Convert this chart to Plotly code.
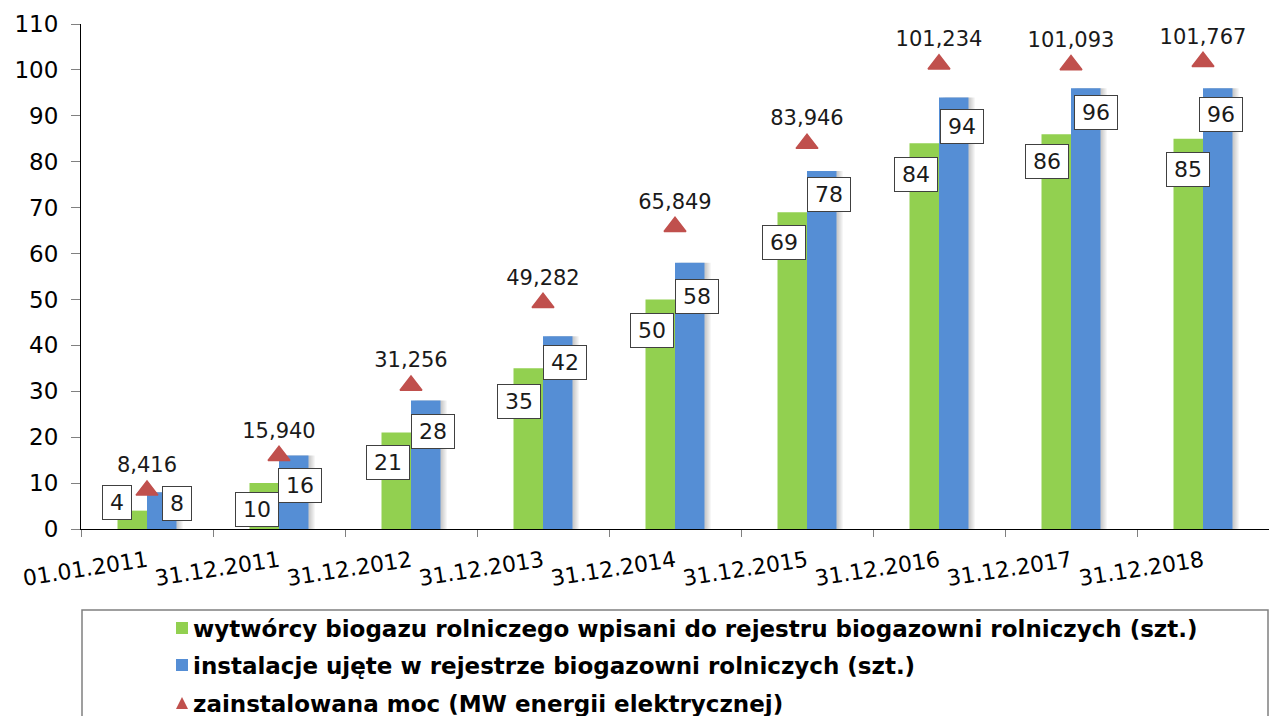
import plotly.graph_objects as go

# Report dates (category axis)
dates = ["01.01.2011", "31.12.2011", "31.12.2012", "31.12.2013", "31.12.2014",
         "31.12.2015", "31.12.2016", "31.12.2017", "31.12.2018"]

# Agricultural biogas producers entered in the register (pcs.)
producers = [4, 10, 21, 35, 50, 69, 84, 86, 85]

# Installations listed in the register of agricultural biogas plants (pcs.)
installations = [8, 16, 28, 42, 58, 78, 94, 96, 96]

# Installed electrical capacity (MW)
capacity_mw = [8.416, 15.940, 31.256, 49.282, 65.849, 83.946, 101.234, 101.093, 101.767]

names = [
    "wytwórcy biogazu rolniczego wpisani do rejestru biogazowni rolniczych (szt.)",
    "instalacje ujęte w rejestrze biogazowni rolniczych (szt.)",
    "zainstalowana moc (MW energii elektrycznej)",
]

GREEN = "#92D050"
BLUE = "#558ED5"
RED = "#C0504D"
FONT = "DejaVu Sans"

W, H = 1269, 716
M_L, M_R, M_T, M_B = 81, 0, 24, 187
PLOT_W = W - M_L - M_R
PLOT_H = H - M_T - M_B
N_CAT = len(dates)
UNIT_PX = PLOT_W / N_CAT          # pixels per category
BAR_W = 29.5 / UNIT_PX            # bar width in category units


def px(x):
    """Horizontal pixel position -> paper coordinate."""
    return (x - M_L) / PLOT_W


def py(y):
    """Vertical pixel position (from top) -> paper coordinate."""
    return (H - M_B - y) / PLOT_H


# pixel offsets of the boxed value labels relative to the bar tops
green_shift = [(-30, 8), (-22, -26), (-23, -30), (-24, -33), (-23, -31),
               (-23, -30), (-23, -31), (-24, -27), (-15, -31)]
blue_shift = [(30, -11), (21, -30), (22, -31), (22, -26), (22, -34),
              (22, -24), (23, -29), (25, -24), (18, -26)]

fig = go.Figure()

# soft drop shadow on the right side of the installation bars
for k in (2, 4, 6):
    fig.add_trace(go.Bar(x=dates, y=installations, offset=k / UNIT_PX, width=BAR_W,
                         marker=dict(color="rgba(0,0,0,0.07)", line=dict(width=0)),
                         showlegend=False, hoverinfo="skip"))

fig.add_trace(go.Bar(x=dates, y=producers, name=names[0], offset=-BAR_W, width=BAR_W,
                     marker=dict(color=GREEN, line=dict(width=0))))
fig.add_trace(go.Bar(x=dates, y=installations, name=names[1], offset=0, width=BAR_W,
                     marker=dict(color=BLUE, line=dict(width=0))))
fig.add_trace(go.Scatter(x=dates, y=capacity_mw, name=names[2], mode="markers+text",
                         marker=dict(symbol="triangle-up", size=19, color=RED,
                                     line=dict(color=RED, width=1.5)),
                         text=[f"{v:.3f}".replace(".", ",") for v in capacity_mw],
                         textposition="top center",
                         textfont=dict(family=FONT, size=21, color="#1a1a1a")))

annotations = []
label_font = dict(family=FONT, size=22, color="#1a1a1a")


def value_box(d, v, dx, dy):
    txt = str(v)
    return dict(x=d, y=v, xref="x", yref="y", text=txt, showarrow=False,
                xshift=dx, yshift=dy, width=14 * len(txt) + 6, align="center",
                bgcolor="white", bordercolor="#404040", borderwidth=1, borderpad=4,
                font=label_font)


for d, v, (dx, dy) in zip(dates, producers, green_shift):
    annotations.append(value_box(d, v, dx, dy))
for d, v, (dx, dy) in zip(dates, installations, blue_shift):
    annotations.append(value_box(d, v, dx, dy))

# legend box drawn below the plot area (runs off the bottom edge)
shapes = [dict(type="rect", xref="paper", yref="paper", x0=px(82), x1=px(1268),
               y0=py(760), y1=py(610), line=dict(color="#808080", width=1.5),
               fillcolor="rgba(0,0,0,0)", layer="above")]
legend_font = dict(family=FONT, size=23, color="black", weight="bold")
rows = [628, 665, 703]
for i, (name, row) in enumerate(zip(names, rows)):
    if i < 2:
        shapes.append(dict(type="rect", xref="paper", yref="paper",
                           x0=px(176), x1=px(188), y0=py(row + 6), y1=py(row - 6),
                           fillcolor=[GREEN, BLUE][i], line=dict(width=0)))
    else:
        x0, x1, xm = px(176), px(188), px(182)
        yb, yt = py(row + 6), py(row - 6)
        shapes.append(dict(type="path", xref="paper", yref="paper",
                           path=f"M {x0},{yb} L {x1},{yb} L {xm},{yt} Z",
                           fillcolor=RED, line=dict(width=0)))
    annotations.append(dict(x=px(191), y=py(row + 1), xref="paper", yref="paper",
                            xanchor="left", yanchor="middle", text=name,
                            showarrow=False, font=legend_font))

fig.update_layout(
    width=W, height=H,
    margin=dict(l=M_L, r=M_R, t=M_T, b=M_B),
    paper_bgcolor="white", plot_bgcolor="white",
    barmode="overlay",
    font=dict(family=FONT, color="black"),
    showlegend=False,
    annotations=annotations,
    shapes=shapes,
)

fig.update_xaxes(type="category", range=[-0.5, N_CAT - 0.5], showline=True,
                 linecolor="black", linewidth=1,
                 tickson="boundaries", ticks="outside", ticklen=7, tickcolor="#808080",
                 tickangle=-9, tickfont=dict(family=FONT, size=22, color="black"),
                 ticklabelstandoff=10, showgrid=False)
fig.update_yaxes(range=[0, 110], dtick=10, showline=True, linecolor="black", linewidth=1,
                 ticks="outside", ticklen=9, tickcolor="#808080",
                 tickfont=dict(family=FONT, size=23, color="black"),
                 showgrid=False, zeroline=False, ticklabelstandoff=8)

fig.write_html("out.html")
